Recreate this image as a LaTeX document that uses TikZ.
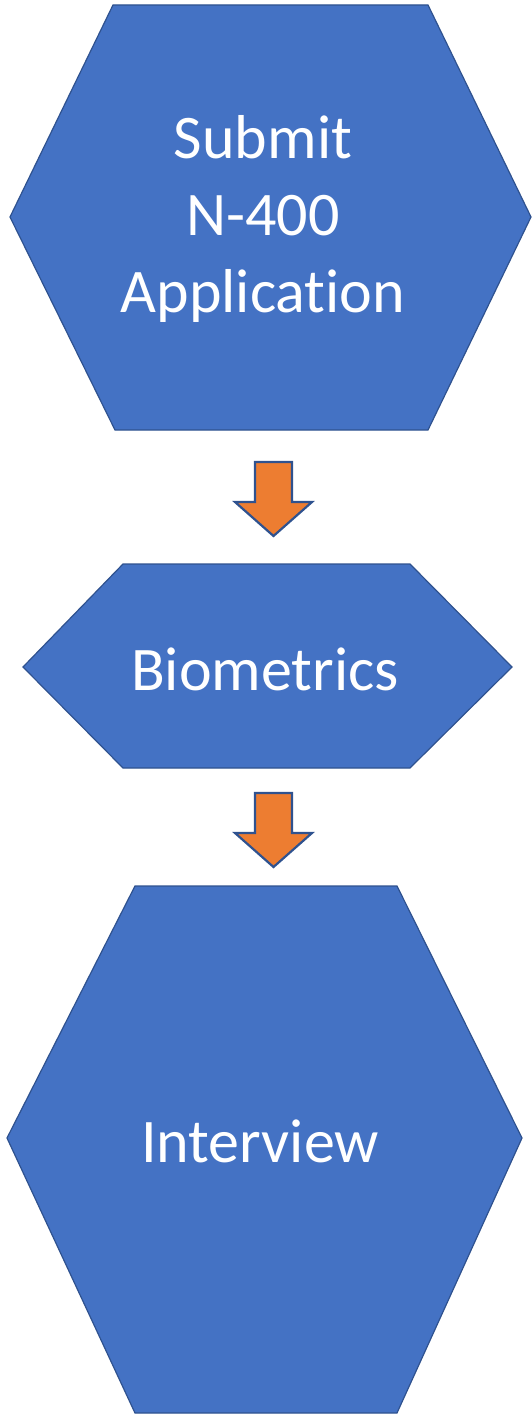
\documentclass[tikz,border=0pt]{standalone}
\usepackage{fontspec}
\setmainfont[Ligatures=NoCommon]{Carlito}
\definecolor{hexblue}{HTML}{4472C4}
\definecolor{hexline}{HTML}{2F528F}
\definecolor{arrorange}{HTML}{ED7D31}
\tikzset{hexagon/.style={fill=hexblue,draw=hexline,line width=1.2pt,line join=miter},
    steparrow/.style={fill=arrorange,draw=hexline,line width=2.2pt,line join=miter},
    hexlabel/.style={text=white,align=center,inner sep=0pt,font=\fontsize{62}{77}\selectfont}
}

\begin{document}
\begin{tikzpicture}[x=1pt,y=-1pt]
    \useasboundingbox (0,0) rectangle (531,1415);

    % Submit N-400 Application
    \filldraw[hexagon] (113,5) -- (428,5) -- (531,217) -- (428,430) -- (115,430) -- (10,217) -- cycle;
    \node[hexlabel] (submit) at (263,219) {Submit\\N-400\\Application};

    % Biometrics
    \filldraw[hexagon] (123,564) -- (410,564) -- (512,667) -- (410,768) -- (123,768) -- (23,667) -- cycle;
    \node[hexlabel] (biometrics) at (265,669) {Biometrics};

    % Interview
    \filldraw[hexagon] (135,886) -- (397,886) -- (522,1138) -- (397,1413) -- (135,1413) -- (7,1138) -- cycle;
    \node[hexlabel] (interview) at (260,1141) {Interview};

    % Arrows
    \foreach \t in {462,793}
        \filldraw[steparrow] (255,\t) -- (292,\t) -- (292,\t+40) -- (312,\t+40) -- (273.5,\t+74) -- (235,\t+40) -- (255,\t+40) -- cycle;
\end{tikzpicture}
\end{document}
